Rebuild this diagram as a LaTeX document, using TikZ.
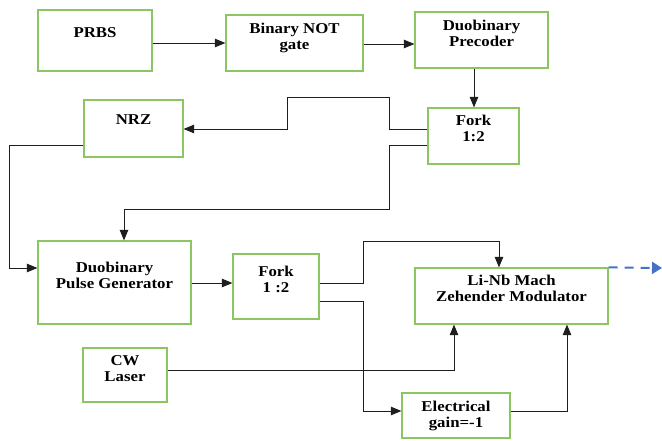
\documentclass[tikz,border=0pt]{standalone}
\usepackage{fontspec}
\setmainfont{Liberation Serif}[FakeStretch=1.12]
\usetikzlibrary{arrows.meta}
\definecolor{boxgreen}{RGB}{140,198,98}
\definecolor{linegray}{RGB}{30,30,30}
\definecolor{outblue}{RGB}{68,114,196}
\tikzset{
  blk/.style={draw=boxgreen, line width=1.2pt, rectangle, inner sep=0pt},
  lbl/.style={anchor=north, inner sep=0pt, align=center, font=\fontsize{15}{16}\selectfont\bfseries},
  conn/.style={draw=linegray, line width=0.9pt, -{Triangle[length=10.5pt,width=8.5pt]}},
}
\begin{document}
\begin{tikzpicture}[x=1pt,y=-1pt]
\useasboundingbox (0,0) rectangle (662,441);
% boxes
\node[blk, minimum width=114pt, minimum height=61pt] (prbs) at (95,40.5) {};
\node[blk, minimum width=137pt, minimum height=56pt] (not) at (294.5,43) {};
\node[blk, minimum width=133pt, minimum height=56pt] (prec) at (481.5,40) {};
\node[blk, minimum width=91pt, minimum height=56pt] (fork1) at (473.5,136) {};
\node[blk, minimum width=99pt, minimum height=57pt] (nrz) at (133.5,128.5) {};
\node[blk, minimum width=153pt, minimum height=83pt] (dpg) at (114.5,282.5) {};
\node[blk, minimum width=86pt, minimum height=65pt] (fork2) at (276,286.5) {};
\node[blk, minimum width=193pt, minimum height=56pt] (mzm) at (511.5,296) {};
\node[blk, minimum width=84pt, minimum height=54pt] (cw) at (125,375) {};
\node[blk, minimum width=108pt, minimum height=45pt] (eg) at (456,415.5) {};
% labels
\node[lbl] (tprbs) at ([yshift=-18pt]prbs.north) {PRBS};
\node[lbl] (tnot) at ([yshift=-8pt]not.north) {Binary NOT\\gate};
\node[lbl] (tprec) at ([yshift=-8pt]prec.north) {Duobinary\\Precoder};
\node[lbl] (tfork1) at ([yshift=-7pt]fork1.north) {Fork\\1:2};
\node[lbl] (tnrz) at ([yshift=-15pt]nrz.north) {NRZ};
\node[lbl] (tdpg) at ([yshift=-21pt]dpg.north) {Duobinary\\Pulse Generator};
\node[lbl] (tfork2) at ([yshift=-12pt]fork2.north) {Fork\\1 :2};
\node[lbl] (tmzm) at ([yshift=-7pt]mzm.north) {Li-Nb Mach\\Zehender Modulator};
\node[lbl] (tcw) at ([yshift=-8pt]cw.north) {CW\\Laser};
\node[lbl] (teg) at ([yshift=-8pt]eg.north) {Electrical\\gain=-1};
% connectors
\draw[conn] (prbs.east |- 0,43) -- (not.west |- 0,43);
\draw[conn] (not.east |- 0,44) -- (prec.west |- 0,44);
\draw[conn] (prec.south -| 474,0) -- (fork1.north -| 474,0);
\draw[conn] (fork1.west |- 0,129) -- (389,129) -- (389,97) -- (287,97) -- (287,129) -- (nrz.east |- 0,129);
\draw[conn] (fork1.west |- 0,145) -- (389,145) -- (389,209) -- (124,209) -- (dpg.north -| 124,0);
\draw[conn] (nrz.west |- 0,145) -- (9,145) -- (9,268) -- (dpg.west |- 0,268);
\draw[conn] (dpg.east |- 0,283) -- (fork2.west |- 0,283);
\draw[conn] (fork2.east |- 0,283) -- (363,283) -- (363,241) -- (499,241) -- (mzm.north -| 499,0);
\draw[conn] (fork2.east |- 0,301) -- (363,301) -- (363,411) -- (eg.west |- 0,411);
\draw[conn] (cw.east |- 0,370) -- (454,370) -- (mzm.south -| 454,0);
\draw[conn] (eg.east |- 0,411) -- (567,411) -- (mzm.south -| 567,0);
\coordinate (out) at (662,268);
\draw[draw=outblue, line width=2pt, dash pattern=on 9pt off 7pt, -{Triangle[length=10pt,width=12pt]}] (mzm.north east) -- (out);
\end{tikzpicture}
\end{document}
